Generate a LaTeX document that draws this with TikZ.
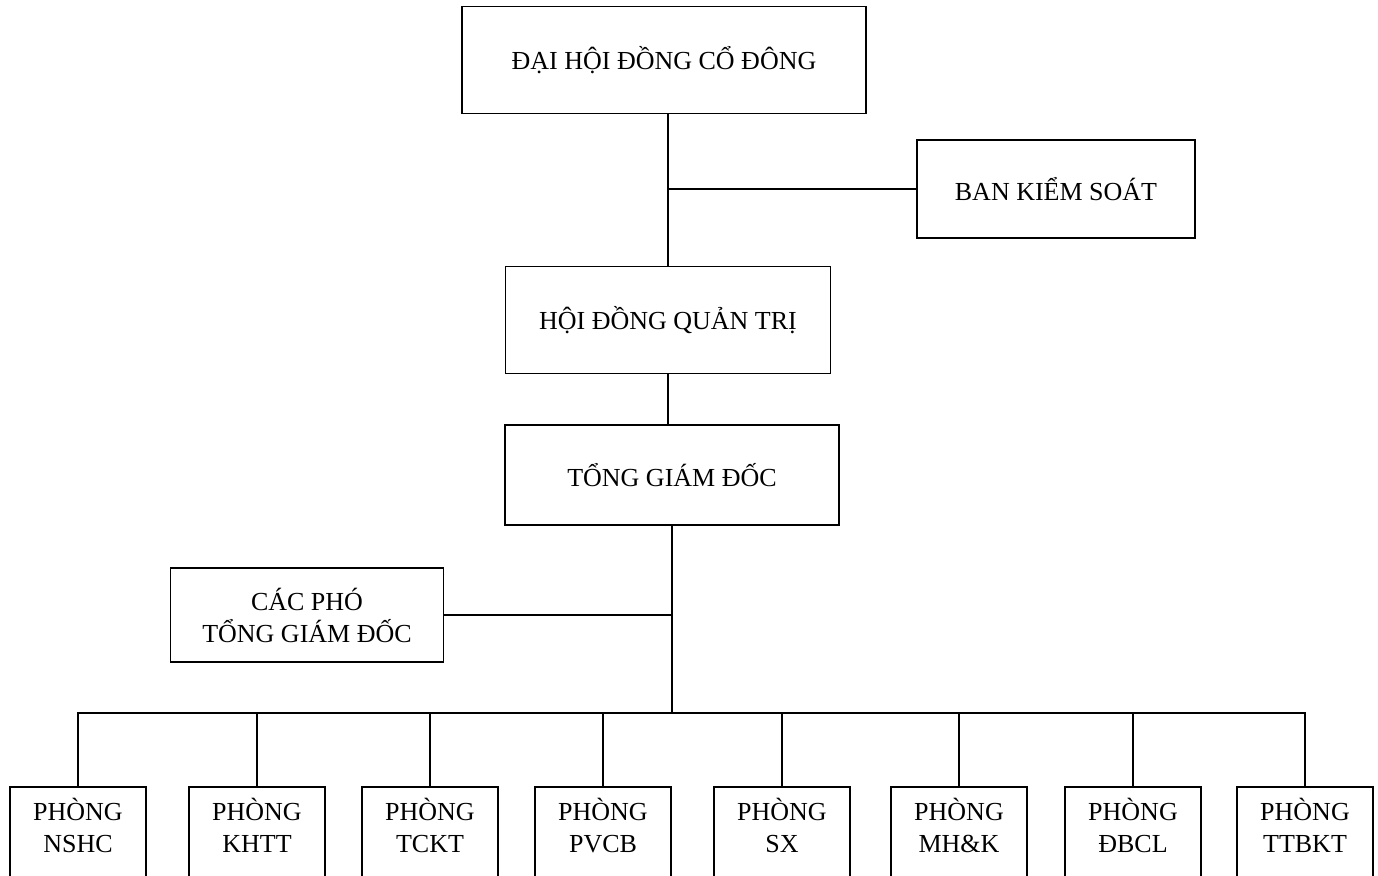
\documentclass[tikz,border=0pt]{standalone}
\usepackage{fontspec}
\setmainfont{Liberation Serif}
\usetikzlibrary{positioning, calc}

\begin{document}
\begin{tikzpicture}[x=1pt, y=-1pt,
    box/.style={draw, line width=1.5pt, align=center, inner sep=0pt, font=\fontsize{26}{32}\selectfont},
    dept/.style={box, anchor=north, minimum width=136pt, minimum height=110pt, text depth=32pt},
    link/.style={line width=1.5pt, line cap=rect}
  ]
  \useasboundingbox (0,0) rectangle (1378,875);
  \clip (0,0) rectangle (1378,875);

  % --- TOP LEVEL ---
  \node[box, minimum width=404pt, minimum height=107pt] (dhdcd) at (664,60) {ĐẠI HỘI ĐỒNG CỔ ĐÔNG};
  \node[box, minimum width=278pt, minimum height=98pt] (bks) at (1056,189) {BAN KIỂM SOÁT};
  \node[box, minimum width=325pt, minimum height=107pt] (hdqt) at (668,320) {HỘI ĐỒNG QUẢN TRỊ};
  \node[box, minimum width=334pt, minimum height=100pt] (tgd) at (672,475) {TỔNG GIÁM ĐỐC};
  \node[box, minimum width=273pt, minimum height=94pt] (pho) at (307,615) {CÁC PHÓ\\TỔNG GIÁM ĐỐC};

  \draw[link] (dhdcd.south -| hdqt.north) -- (hdqt.north);
  \draw[link] (bks.west) -- (bks.west -| hdqt.north);
  \draw[link] (hdqt.south) -- (hdqt.south |- tgd.north);

  % --- DEPARTMENTS ---
  \coordinate (bus) at (672,713);
  \draw[link] (tgd.south) -- (bus);
  \draw[link] (pho.east) -- (pho.east -| tgd.south);

  \foreach \name/\x/\txt in {nshc/78/NSHC, khtt/257/KHTT, tckt/430/TCKT, pvcb/603/PVCB,
      sx/782/SX, mhk/959/MH\&K, dbcl/1133/ĐBCL, ttbkt/1305/TTBKT} {
    \node[dept] (\name) at (\x,786) {PHÒNG\\\txt};
    \draw[link] (\name.north) -- (\name.north |- bus);
  }
  \draw[link] (nshc.north |- bus) -- (ttbkt.north |- bus);
\end{tikzpicture}
\end{document}
